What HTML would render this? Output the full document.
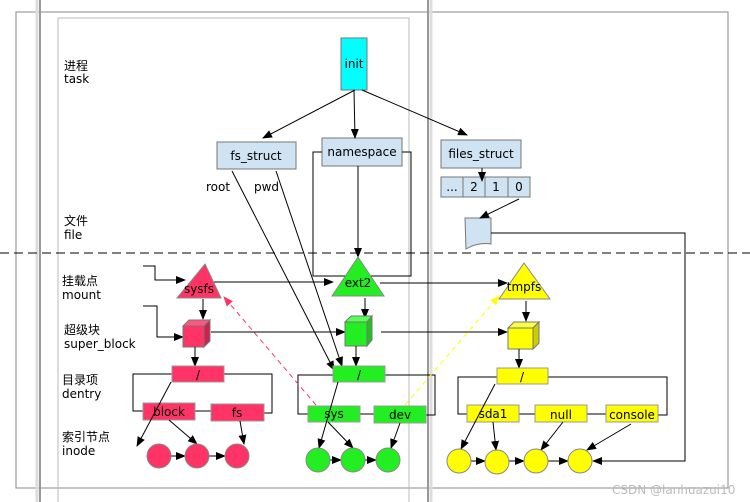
<!DOCTYPE html>
<html><head><meta charset="utf-8"><style>
html,body{margin:0;padding:0;background:#fff}
svg{display:block}
text{font-family:"DejaVu Sans","Liberation Sans","Noto Sans CJK SC",sans-serif;font-size:12px;fill:#000}
</style></head><body>
<svg width="750" height="502" viewBox="0 0 750 502" xmlns="http://www.w3.org/2000/svg">
<defs>
<marker id="a" markerWidth="10" markerHeight="8" refX="9" refY="4" orient="auto" markerUnits="userSpaceOnUse"><path d="M0,0 L10,4 L0,8 z" fill="#000"/></marker>
<marker id="ar" markerWidth="10" markerHeight="8" refX="9" refY="4" orient="auto" markerUnits="userSpaceOnUse"><path d="M0,0 L10,4 L0,8 z" fill="#ff3366"/></marker>
<marker id="ay" markerWidth="10" markerHeight="8" refX="9" refY="4" orient="auto" markerUnits="userSpaceOnUse"><path d="M0,0 L10,4 L0,8 z" fill="#ffff00"/></marker>
</defs>
<rect x="16" y="12" width="712" height="476" fill="none" stroke="#888" stroke-width="1"/>
<rect x="58" y="18" width="351" height="490" fill="none" stroke="#bbb" stroke-width="1"/>
<line x1="40" y1="0" x2="40" y2="502" stroke="#999" stroke-width="2"/>
<line x1="37" y1="0" x2="37" y2="502" stroke="#ddd" stroke-width="3"/>
<line x1="428" y1="0" x2="428" y2="502" stroke="#999" stroke-width="2"/>
<line x1="431" y1="0" x2="431" y2="502" stroke="#ddd" stroke-width="3"/>
<line x1="0" y1="253" x2="750" y2="253" stroke="#000" stroke-dasharray="9,5"/>
<text x="64" y="70">进程</text><text x="64" y="83">task</text>
<text x="64" y="225">文件</text><text x="64" y="239">file</text>
<text x="62" y="285">挂载点</text><text x="62" y="299">mount</text>
<text x="64" y="334">超级块</text><text x="64" y="348">super_block</text>
<text x="62" y="384">目录项</text><text x="62" y="398">dentry</text>
<text x="62" y="441">索引节点</text><text x="62" y="455">inode</text>
<rect x="341" y="38" width="26" height="52" fill="#00ffff" stroke="#777"/>
<text x="354" y="68" text-anchor="middle">init</text>
<rect x="217" y="142" width="79" height="27" fill="#cfe3f3" stroke="#777"/>
<text x="256" y="160" text-anchor="middle">fs_struct</text>
<rect x="322" y="138" width="80" height="28" fill="#cfe3f3" stroke="#777"/>
<text x="362" y="156" text-anchor="middle">namespace</text>
<rect x="441" y="140" width="80" height="28" fill="#cfe3f3" stroke="#777"/>
<text x="481" y="158" text-anchor="middle">files_struct</text>
<g fill="#cfe3f3" stroke="#777">
<rect x="441" y="177" width="22" height="20"/><rect x="463" y="177" width="22" height="20"/><rect x="485" y="177" width="23" height="20"/><rect x="508" y="177" width="22" height="20"/>
</g>
<text x="452" y="191" text-anchor="middle">...</text><text x="474" y="191" text-anchor="middle">2</text><text x="496" y="191" text-anchor="middle">1</text><text x="519" y="191" text-anchor="middle">0</text>
<path d="M465,218 L491,218 L491,244 Q478,242 466,249 Z" fill="#cfe3f3" stroke="#777"/>
<line x1="355" y1="90" x2="263" y2="138" stroke="#000" marker-end="url(#a)"/>
<line x1="354" y1="90" x2="355" y2="138" stroke="#000" marker-end="url(#a)"/>
<line x1="362" y1="90" x2="467" y2="135" stroke="#000" marker-end="url(#a)"/>
<line x1="482" y1="168" x2="482" y2="181" stroke="#000" marker-end="url(#a)"/>
<line x1="519" y1="199" x2="480" y2="218" stroke="#000" marker-end="url(#a)"/>
<text x="206" y="191">root</text><text x="254" y="191">pwd</text>
<polyline points="322,152 313,152 313,276 411,276 411,152 402,152" fill="none" stroke="#000"/>
<line x1="358" y1="166" x2="358" y2="257" stroke="#000" marker-end="url(#a)"/>
<polyline points="491,233 685,233 685,461 593,461" fill="none" stroke="#000" marker-end="url(#a)"/>
<polyline points="143,266 155,266 155,280 185,280" fill="none" stroke="#000" marker-end="url(#a)"/>
<polyline points="143,306 157,306 157,337 183,337" fill="none" stroke="#000" marker-end="url(#a)"/>
<line x1="214" y1="282" x2="333" y2="282" stroke="#000" marker-end="url(#a)"/>
<line x1="380" y1="283" x2="507" y2="283" stroke="#000" marker-end="url(#a)"/>
<line x1="211" y1="332" x2="345" y2="332" stroke="#000" marker-end="url(#a)"/>
<line x1="381" y1="332" x2="507" y2="332" stroke="#000" marker-end="url(#a)"/>
<polygon points="205,264 221,298 177,298" fill="#ff3366" stroke="#888"/>
<text x="199" y="293" text-anchor="middle">sysfs</text>
<polygon points="358,257 384,296 332,296" fill="#22ee22" stroke="#888"/>
<text x="358" y="287" text-anchor="middle">ext2</text>
<polygon points="524,263 550,299 499,299" fill="#ffff00" stroke="#888"/>
<text x="524" y="291" text-anchor="middle">tmpfs</text>
<line x1="203" y1="299" x2="203" y2="319" stroke="#000" marker-end="url(#a)"/>
<line x1="365" y1="298" x2="365" y2="318" stroke="#000" marker-end="url(#a)"/>
<line x1="526" y1="301" x2="526" y2="321" stroke="#000" marker-end="url(#a)"/>
<g stroke="#777">
<polygon points="183,326 189,320 210,320 204,326" fill="#ff5580"/><polygon points="204,326 210,320 210,341 204,347" fill="#cc2250"/><rect x="183" y="326" width="21" height="21" fill="#ff3366"/>
<polygon points="345,322 351,316 372,316 367,322" fill="#55ff55"/><polygon points="367,322 372,316 372,340 367,346" fill="#22c022"/><rect x="345" y="322" width="22" height="24" fill="#22ee22"/>
<polygon points="508,328 514,322 539,322 533,328" fill="#ffff44"/><polygon points="533,328 539,322 539,343 533,349" fill="#cccc00"/><rect x="508" y="328" width="25" height="21" fill="#ffff00"/>
</g>
<line x1="195" y1="347" x2="195" y2="366" stroke="#000" marker-end="url(#a)"/>
<line x1="356" y1="346" x2="356" y2="366" stroke="#000" marker-end="url(#a)"/>
<line x1="519" y1="349" x2="519" y2="368" stroke="#000" marker-end="url(#a)"/>
<polyline points="172,374 133,374 133,411 143,411" fill="none" stroke="#000"/>
<polyline points="224,374 272,374 272,413 264,413" fill="none" stroke="#000"/>
<line x1="195" y1="411" x2="211" y2="411" stroke="#000"/>
<polyline points="333,375 298,375 298,414 308,414" fill="none" stroke="#000"/>
<polyline points="385,375 435,375 435,415 426,415" fill="none" stroke="#000"/>
<line x1="360" y1="414" x2="374" y2="414" stroke="#000"/>
<polyline points="497,377 458,377 458,414 467,414" fill="none" stroke="#000"/>
<polyline points="548,377 667,377 667,415 658,415" fill="none" stroke="#000"/>
<line x1="519" y1="414" x2="535" y2="414" stroke="#000"/>
<line x1="587" y1="414" x2="606" y2="414" stroke="#000"/>
<line x1="232" y1="171" x2="334" y2="370" stroke="#000" marker-end="url(#a)"/>
<line x1="276" y1="171" x2="342" y2="366" stroke="#000" marker-end="url(#a)"/>
<g stroke="#999">
<rect x="172" y="366" width="52" height="16" fill="#ff3366"/>
<rect x="143" y="403" width="52" height="17" fill="#ff3366"/>
<rect x="211" y="404" width="53" height="17" fill="#ff3366"/>
<rect x="333" y="366" width="52" height="16" fill="#22ee22"/>
<rect x="308" y="406" width="52" height="16" fill="#22ee22"/>
<rect x="374" y="406" width="52" height="17" fill="#22ee22"/>
<rect x="497" y="368" width="51" height="16" fill="#ffff00"/>
<rect x="467" y="405" width="52" height="17" fill="#ffff00"/>
<rect x="535" y="405" width="52" height="17" fill="#ffff00"/>
<rect x="606" y="405" width="52" height="17" fill="#ffff00"/>
</g>
<text x="198" y="379" text-anchor="middle">/</text>
<text x="169" y="416" text-anchor="middle">block</text>
<text x="237" y="417" text-anchor="middle">fs</text>
<text x="359" y="379" text-anchor="middle">/</text>
<text x="334" y="418" text-anchor="middle">sys</text>
<text x="400" y="419" text-anchor="middle">dev</text>
<text x="522" y="381" text-anchor="middle">/</text>
<text x="493" y="418" text-anchor="middle">sda1</text>
<text x="561" y="419" text-anchor="middle">null</text>
<text x="632" y="419" text-anchor="middle">console</text>
<line x1="316" y1="405" x2="224" y2="297" stroke="#ff3366" stroke-dasharray="5,4" marker-end="url(#ar)"/>
<line x1="405" y1="405" x2="499" y2="296" stroke="#ffff00" stroke-dasharray="5,4" marker-end="url(#ay)"/>
<g stroke="#000" fill="none">
<line x1="171" y1="382" x2="137" y2="446" marker-end="url(#a)"/>
<line x1="169" y1="420" x2="197" y2="444" marker-end="url(#a)"/>
<line x1="240" y1="421" x2="244" y2="444" marker-end="url(#a)"/>
<line x1="171" y1="456" x2="185" y2="456" marker-end="url(#a)"/>
<line x1="209" y1="456" x2="225" y2="456" marker-end="url(#a)"/>
<line x1="338" y1="382" x2="319" y2="448" marker-end="url(#a)"/>
<line x1="328" y1="422" x2="353" y2="448" marker-end="url(#a)"/>
<line x1="400" y1="423" x2="391" y2="448" marker-end="url(#a)"/>
<line x1="330" y1="460" x2="341" y2="460" marker-end="url(#a)"/>
<line x1="365" y1="460" x2="376" y2="460" marker-end="url(#a)"/>
<line x1="495" y1="384" x2="461" y2="449" marker-end="url(#a)"/>
<line x1="493" y1="422" x2="496" y2="450" marker-end="url(#a)"/>
<line x1="563" y1="422" x2="541" y2="450" marker-end="url(#a)"/>
<line x1="631" y1="424" x2="587" y2="450" marker-end="url(#a)"/>
<line x1="471" y1="461" x2="485" y2="461" marker-end="url(#a)"/>
<line x1="509" y1="461" x2="524" y2="461" marker-end="url(#a)"/>
<line x1="548" y1="461" x2="568" y2="461" marker-end="url(#a)"/>
</g>
<g stroke="#888">
<circle cx="159" cy="456" r="12" fill="#ff3366"/><circle cx="197" cy="456" r="12" fill="#ff3366"/><circle cx="237" cy="456" r="12" fill="#ff3366"/>
<circle cx="318" cy="460" r="12" fill="#22ee22"/><circle cx="353" cy="460" r="12" fill="#22ee22"/><circle cx="388" cy="460" r="12" fill="#22ee22"/>
<circle cx="459" cy="461" r="12" fill="#ffff00"/><circle cx="497" cy="462" r="12" fill="#ffff00"/><circle cx="536" cy="461" r="12" fill="#ffff00"/><circle cx="580" cy="461" r="12" fill="#ffff00"/>
</g>
<text x="612" y="494" style="font-size:12px;fill:#bbb">CSDN @lanhuazui10</text>
</svg>
</body></html>
